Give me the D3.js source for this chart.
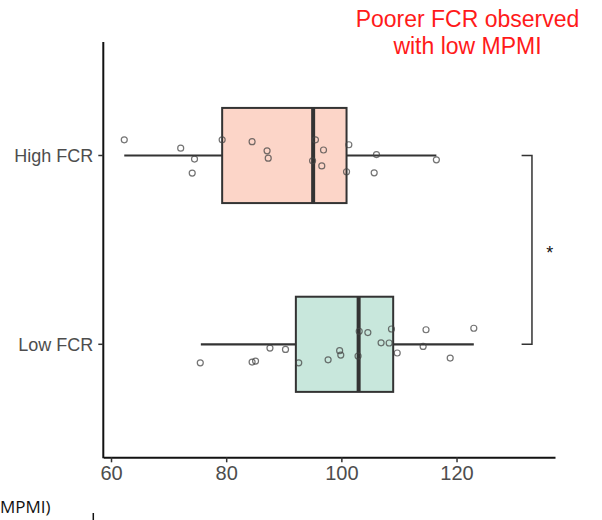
<!DOCTYPE html>
<html>
<head>
<meta charset="utf-8">
<style>
  body { margin: 0; background: #fff; }
  svg { display: block; }
  .tick text { fill: #4d4d4d; font-family: 'Liberation Sans', Arial, sans-serif; }
</style>
</head>
<body>
<svg width="602" height="520"></svg>
<script src="https://d3js.org/d3.v7.min.js"></script>
<script>
// groups, top to bottom
const groups = ["High FCR", "Low FCR"];
const fills = ["#fcd5c8", "#c8e7dc"];

// box stats: [min, q1, median, q3, max]
const boxHigh = [62.3, 79.3, 95.1, 100.9, 116.5];
const boxLow = [75.6, 92.1, 103.0, 109.0, 123.0];

// points (value) and their vertical jitter (in group units)
const highVals = [62.3, 72.1, 74.5, 74.1, 79.3, 84.5, 87.1, 87.3, 95.5, 96.9, 95.0, 96.6, 101.3, 100.9, 106.1, 105.7, 116.5];
const highJit = [-0.083, -0.039, 0.019, 0.093, -0.083, -0.073, -0.025, 0.014, -0.083, -0.029, 0.028, 0.055, -0.057, 0.086, -0.005, 0.092, 0.023];
const lowVals = [75.5, 84.5, 85.1, 87.6, 90.3, 92.6, 97.7, 99.7, 99.9, 102.9, 103.1, 104.6, 106.9, 108.3, 108.7, 109.7, 114.2, 114.7, 118.9, 123.0];
const lowJit = [0.098, 0.094, 0.089, 0.020, 0.027, 0.098, 0.082, 0.034, 0.057, 0.062, -0.069, -0.062, -0.008, -0.007, -0.081, 0.046, 0.011, -0.077, 0.073, -0.085];

const xTicks = [60, 80, 100, 120];

const svg = d3.select("svg");

let x = d3.scaleLinear().domain([58.66, 137.1]).range([103.3, 555]);
let y = d3.scaleLinear().domain([0, 1]).range([155.5, 344.3]);
let halfBox = 0.252;

let boxes = [boxHigh, boxLow];
let pts = [
  highVals.map((v, i) => ({ g: 0, v: v, j: highJit[i] })),
  lowVals.map((v, i) => ({ g: 1, v: v, j: lowJit[i] }))
].flat();

// whiskers
svg.selectAll(".whisk")
  .data(boxes)
  .join("line")
  .attr("x1", d => x(d[0]))
  .attr("x2", d => x(d[4]))
  .attr("y1", (d, i) => y(i))
  .attr("y2", (d, i) => y(i))
  .style("stroke", "#333")
  .style("stroke-width", 2.2)

// boxes
svg.selectAll(".box")
  .data(boxes)
  .join("rect")
  .attr("x", d => x(d[1]))
  .attr("width", d => x(d[3]) - x(d[1]))
  .attr("y", (d, i) => y(i - halfBox))
  .attr("height", y(2 * halfBox) - y(0))
  .style("fill", (d, i) => fills[i])
  .style("stroke", "#333")
  .style("stroke-width", 2)

// medians
svg.selectAll(".med")
  .data(boxes)
  .join("line")
  .attr("x1", d => x(d[2]))
  .attr("x2", d => x(d[2]))
  .attr("y1", (d, i) => y(i - halfBox))
  .attr("y2", (d, i) => y(i + halfBox))
  .style("stroke", "#333")
  .style("stroke-width", 4)

// jittered points
svg.selectAll(".pt")
  .data(pts)
  .join("circle")
  .attr("cx", d => x(d.v))
  .attr("cy", d => y(d.g + d.j))
  .attr("r", 3)
  .style("fill", "none")
  .style("stroke", "#444")
  .style("stroke-opacity", 0.75)
  .style("stroke-width", 1.2)

// x axis
let xAxis = svg.append("g")
  .attr("transform", "translate(0,457.3)")
  .call(d3.axisBottom(x).tickValues(xTicks).tickSize(5).tickPadding(4).tickSizeOuter(0))
xAxis.select(".domain").style("stroke", "#111").style("stroke-width", 2)
xAxis.selectAll(".tick line").style("stroke", "#333").style("stroke-width", 1.5)
xAxis.selectAll(".tick text").style("font-size", "20px")

// y axis
svg.append("line")
  .attr("x1", 103.3).attr("x2", 103.3)
  .attr("y1", 42).attr("y2", 458.3)
  .style("stroke", "#111")
  .style("stroke-width", 2)

let yAxis = svg.append("g")
  .selectAll("g")
  .data(groups)
  .join("g")
  .attr("class", "tick")
  .attr("transform", (d, i) => "translate(103.3," + y(i) + ")")
yAxis.append("line")
  .attr("x1", -5).attr("x2", 0)
  .style("stroke", "#333").style("stroke-width", 1.5)
yAxis.append("text")
  .attr("x", -10)
  .attr("dy", "0.35em")
  .attr("text-anchor", "end")
  .style("font-size", "18px")
  .text(d => d)

// significance bracket
let bx = 133.1, bl = 131.3;
svg.append("path")
  .attr("d", d3.line()([[x(bl), y(0)], [x(bx), y(0)], [x(bx), y(1)], [x(bl), y(1)]]))
  .style("fill", "none")
  .style("stroke", "#333")
  .style("stroke-width", 1.5)
svg.append("text")
  .attr("x", x(136.2))
  .attr("y", y(0.5) + 9)
  .attr("text-anchor", "middle")
  .style("font-family", "'Liberation Sans', Arial, sans-serif")
  .style("font-size", "18px")
  .style("fill", "#111")
  .text("*")

// annotation
svg.selectAll(".note")
  .data(["Poorer FCR observed", "with low MPMI"])
  .join("text")
  .attr("x", 467.5)
  .attr("y", (d, i) => 27 + i * 27)
  .attr("text-anchor", "middle")
  .style("font-family", "'Liberation Sans', Arial, sans-serif")
  .style("font-size", "23px")
  .style("fill", "#ff1a1a")
  .text(d => d)

// cut-off label at the bottom left (only its end is visible)
svg.append("text")
  .attr("x", 0)
  .attr("y", 513)
  .style("font-family", "'Open Sans', 'Liberation Sans', sans-serif")
  .style("font-size", "17px")
  .style("fill", "#111")
  .text("MPMI)")
svg.append("line")
  .attr("x1", 93.3).attr("x2", 93.3)
  .attr("y1", 513).attr("y2", 520)
  .style("stroke", "#111").style("stroke-width", 1.5)
</script>
</body>
</html>
